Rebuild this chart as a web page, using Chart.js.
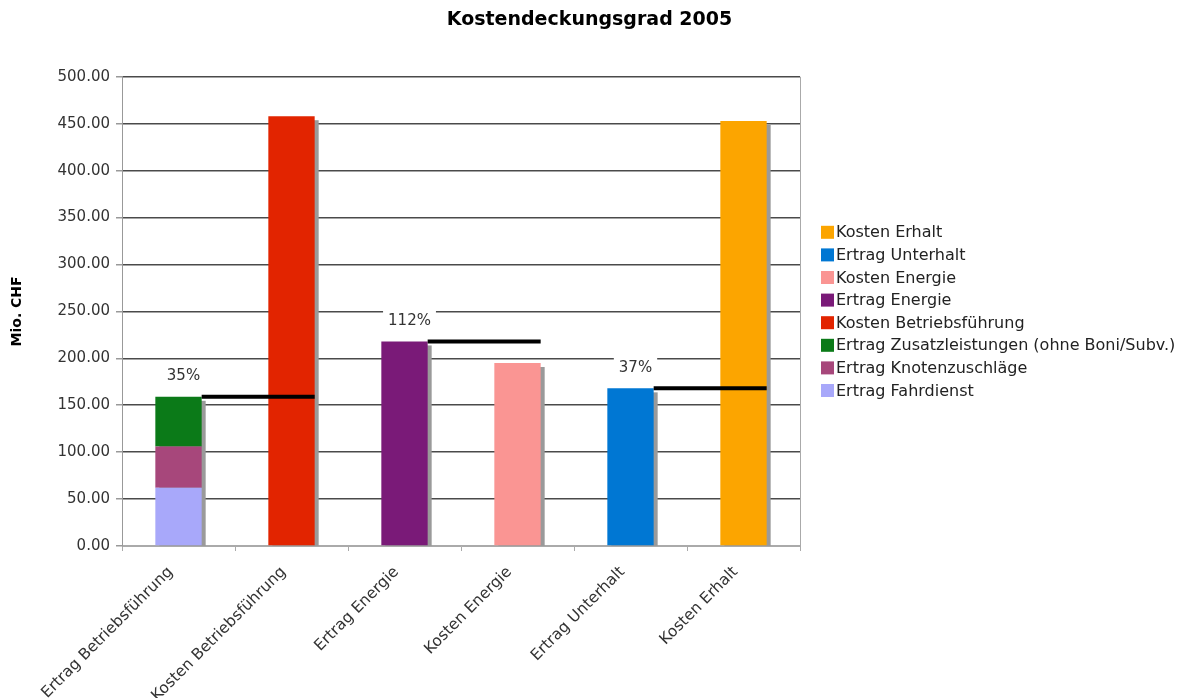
<!DOCTYPE html>
<html>
<head>
<meta charset="utf-8">
<script src="https://cdn.jsdelivr.net/npm/chart.js@4"></script>
<style>
  body { margin: 0; background: #fff; }
  #wrap { width: 1179px; height: 698px; }
</style>
</head>
<body>
<div id="wrap"><canvas id="kdgChart" width="1179" height="698"></canvas></div>
<script>
const categories = ['Ertrag Betriebsführung', 'Kosten Betriebsführung', 'Ertrag Energie',
  'Kosten Energie', 'Ertrag Unterhalt', 'Kosten Erhalt'];

// Mio. CHF
const ertragFahrdienst   = [62, null, null, null, null, null];
const ertragKnoten       = [44, null, null, null, null, null];
const ertragZusatz       = [53, null, null, null, null, null];
const kostenBetrieb      = [null, 458, null, null, null, null];
const ertragEnergie      = [null, null, 218, null, null, null];
const kostenEnergie      = [null, null, null, 195, null, null];
const ertragUnterhalt    = [null, null, null, null, 168, null];
const kostenErhalt       = [null, null, null, null, null, 453];

const yTicks = [0, 50, 100, 150, 200, 250, 300, 350, 400, 450, 500];

// ertrag index -> kosten index, used for the coverage lines and %
const pairs = [[0, 1], [2, 3], [4, 5]];

const series = [
  { label: 'Ertrag Fahrdienst', data: ertragFahrdienst, color: '#a8a8fa' },
  { label: 'Ertrag Knotenzuschläge', data: ertragKnoten, color: '#a7477b' },
  { label: 'Ertrag Zusatzleistungen (ohne Boni/Subv.)', data: ertragZusatz, color: '#0b7a18' },
  { label: 'Kosten Betriebsführung', data: kostenBetrieb, color: '#e22400' },
  { label: 'Ertrag Energie', data: ertragEnergie, color: '#7a1a78' },
  { label: 'Kosten Energie', data: kostenEnergie, color: '#fa9593' },
  { label: 'Ertrag Unterhalt', data: ertragUnterhalt, color: '#0077d3' },
  { label: 'Kosten Erhalt', data: kostenErhalt, color: '#fca500' },
];

const totals = categories.map((_, j) => series.reduce((s, d) => s + (d.data[j] || 0), 0));

function barWidthAt(chart, j) {
  for (let i = 0; i < series.length; i++) {
    if (series[i].data[j] != null) return chart.getDatasetMeta(i).data[j].width;
  }
  return 0;
}

const decor = {
  id: 'decor',
  beforeDatasetsDraw(chart) {
    // grey drop shadow, one per column
    const ctx = chart.ctx;
    const x = chart.scales.x, y = chart.scales.y;
    ctx.save();
    ctx.fillStyle = '#9a9a9a';
    categories.forEach((_, j) => {
      const w = barWidthAt(chart, j);
      const top = y.getPixelForValue(totals[j]);
      const bottom = y.getPixelForValue(0);
      ctx.fillRect(x.getPixelForValue(j) - w / 2 + 4, top + 4, w, bottom - top - 4);
    });
    ctx.restore();
  },
  afterDatasetsDraw(chart) {
    const ctx = chart.ctx;
    const x = chart.scales.x, y = chart.scales.y;
    const area = chart.chartArea;
    ctx.save();
    // right frame line
    ctx.strokeStyle = '#aaa';
    ctx.lineWidth = 1;
    ctx.beginPath();
    ctx.moveTo(area.right + 0.5, area.top);
    ctx.lineTo(area.right + 0.5, area.bottom);
    ctx.stroke();

    pairs.forEach(([e, k]) => {
      const yv = y.getPixelForValue(totals[e]);
      const x1 = x.getPixelForValue(e) + barWidthAt(chart, e) / 2;
      const x2 = x.getPixelForValue(k) + barWidthAt(chart, k) / 2;
      ctx.strokeStyle = '#000';
      ctx.lineWidth = 4;
      ctx.beginPath();
      ctx.moveTo(x1, yv);
      ctx.lineTo(x2, yv);
      ctx.stroke();

      const txt = Math.round(totals[e] / totals[k] * 100) + '%';
      ctx.font = '15px "DejaVu Sans"';
      const w = ctx.measureText(txt).width;
      const cx = x.getPixelForValue(e) + 5, cy = yv - 20.5;
      ctx.fillStyle = '#fff';
      ctx.fillRect(cx - w / 2 - 5, cy - 10, w + 10, 20);
      ctx.fillStyle = '#333';
      ctx.textAlign = 'center';
      ctx.textBaseline = 'middle';
      ctx.fillText(txt, cx, cy);
    });
    ctx.restore();
  },
  afterDraw(chart) {
    // legend, last series on top, centred on the plot height
    const ctx = chart.ctx;
    const area = chart.chartArea;
    const step = 22.6;
    const items = series.slice().reverse();
    const y0 = (area.top + area.bottom) / 2 - (items.length - 1) / 2 * step;
    const bx = area.right + 21;
    ctx.save();
    ctx.font = '16px "DejaVu Sans"';
    ctx.textAlign = 'left';
    ctx.textBaseline = 'middle';
    items.forEach((s, i) => {
      const cy = y0 + i * step;
      ctx.fillStyle = s.color;
      ctx.fillRect(bx, cy - 6.5, 13, 13);
      ctx.fillStyle = '#222';
      ctx.fillText(s.label, bx + 15, cy + 1);
    });
    ctx.restore();
  }
};

new Chart(document.getElementById('kdgChart'), {
  type: 'bar',
  data: {
    labels: categories,
    datasets: series.map(s => ({
      label: s.label,
      data: s.data,
      backgroundColor: s.color,
      borderWidth: 0,
      categoryPercentage: 1,
      barPercentage: 0.41,
      skipNull: true,
    })),
  },
  options: {
    responsive: false,
    animation: false,
    layout: { padding: 0 },
    plugins: {
      title: {
        display: true,
        text: 'Kostendeckungsgrad 2005',
        color: '#000',
        font: { family: 'DejaVu Sans', size: 19, weight: 'bold' },
        padding: { top: 9, bottom: 45 },
      },
      legend: { display: false },
      tooltip: { enabled: false },
    },
    scales: {
      x: {
        stacked: true,
        grid: { offset: true, drawOnChartArea: false, tickLength: 5, color: '#aaa' },
        border: { color: '#aaa' },
        ticks: {
          color: '#333',
          font: { family: 'DejaVu Sans', size: 15.5 },
          minRotation: 45,
          maxRotation: 45,
          autoSkip: false,
          padding: 12,
          labelOffset: -8,
        },
        afterFit(scale) { scale.height = 152; },
      },
      y: {
        stacked: true,
        min: 0,
        max: 500,
        afterBuildTicks(scale) { scale.ticks = yTicks.map(v => ({ value: v })); },
        ticks: {
          color: '#333',
          font: { family: 'DejaVu Sans', size: 15 },
          padding: 6,
          callback: v => v.toFixed(2),
        },
        grid: {
          color: c => c.tick && c.tick.value === 0 ? '#aaa' : '#4a4a4a',
          lineWidth: 1.5,
          tickLength: 6,
          tickColor: '#999',
        },
        border: { color: '#999' },
        title: {
          display: true,
          text: 'Mio. CHF',
          color: '#000',
          font: { family: 'DejaVu Sans', size: 14, weight: 'bold' },
          padding: { top: 9, bottom: 0 },
        },
        afterFit(scale) { scale.width = 122; },
      },
      // empty axis that only reserves room on the right for the legend
      legendSpace: {
        type: 'linear',
        position: 'right',
        grid: { display: false, drawTicks: false },
        border: { display: false },
        ticks: { display: false },
        afterFit(scale) { scale.width = 379; },
      },
    },
  },
  plugins: [decor],
});
</script>
</body>
</html>
